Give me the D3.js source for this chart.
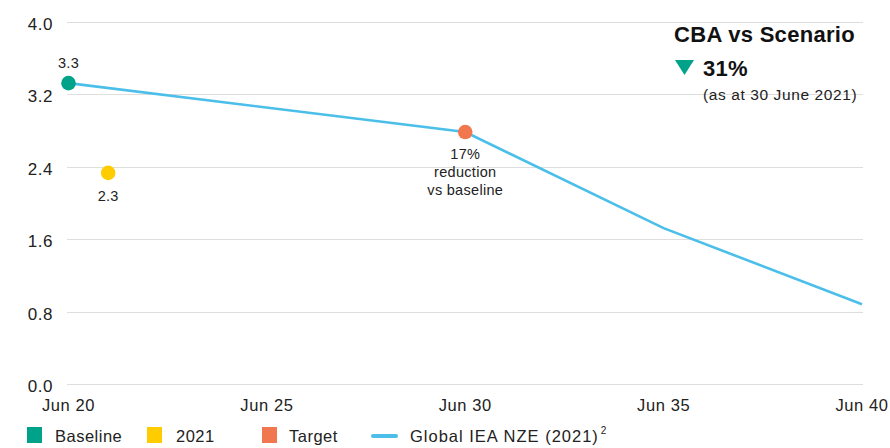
<!DOCTYPE html>
<html>
<head>
<meta charset="utf-8">
<script src="https://cdn.jsdelivr.net/npm/d3@7/dist/d3.min.js"></script>
<style>
  html, body { margin: 0; padding: 0; background: #fff; }
  svg { display: block; font-family: "Liberation Sans", Arial, sans-serif; }
</style>
</head>
<body>
<svg id="chart" width="890" height="448"></svg>
<script>
// ---- data ----
const xTickYears = [2020, 2025, 2030, 2035, 2040];
const xTickLabels = ["Jun 20", "Jun 25", "Jun 30", "Jun 35", "Jun 40"];
const yTicks = [0, 0.8, 1.6, 2.4, 3.2, 4.0];
const nzeYears = [2020, 2030, 2035, 2040];
const nzeValues = [3.32, 2.78, 1.72, 0.88];
const pointNames = ["Baseline", "2021", "Target"];
const pointYears = [2020, 2021, 2030];
const pointValues = [3.32, 2.33, 2.78];
const legendLabels = ["Baseline", "2021", "Target", "Global IEA NZE (2021)"];

const colors = { Baseline: "#00a389", "2021": "#ffcc00", Target: "#f0774e", line: "#4bbfe9" };

const svg = d3.select("#chart");
const x = d3.scaleLinear().domain([2020, 2040]).range([68.5, 862]);
const y = d3.scaleLinear().domain([0, 4]).range([384, 21.5]);

const textColor = "#222";

// gridlines
svg.append("g").selectAll("line").data(yTicks).join("line")
  .attr("x1", 67).attr("x2", 863)
  .attr("y1", d => Math.round(y(d)) + 0.5).attr("y2", d => Math.round(y(d)) + 0.5)
  .attr("stroke", "#dedede").attr("stroke-width", 1.2);

// y labels
svg.append("g").selectAll("text").data(yTicks).join("text")
  .attr("x", 53).attr("y", d => y(d) + 8)
  .attr("text-anchor", "end")
  .attr("font-size", 17).attr("letter-spacing", 0.5).attr("fill", textColor)
  .text(d => d.toFixed(1));

// x labels
svg.append("g").selectAll("text").data(xTickYears).join("text")
  .attr("x", d => x(d)).attr("y", 411)
  .attr("text-anchor", "middle")
  .attr("font-size", 16.5).attr("letter-spacing", 0.6).attr("fill", textColor)
  .text((d, i) => xTickLabels[i]);

// line
const lineData = nzeYears.map((d, i) => [d, nzeValues[i]]);
svg.append("path")
  .datum(lineData)
  .attr("d", d3.line().x(d => x(d[0])).y(d => y(d[1])))
  .attr("fill", "none").attr("stroke", colors.line).attr("stroke-width", 2.6);

// points
svg.append("g").selectAll("circle").data(pointNames).join("circle")
  .attr("cx", (d, i) => x(pointYears[i]))
  .attr("cy", (d, i) => y(pointValues[i]))
  .attr("r", 7.3)
  .attr("fill", d => colors[d]);

// point labels
const lab = svg.append("g").attr("font-size", 14.5).attr("fill", textColor).attr("text-anchor", "middle").attr("letter-spacing", 0.3);
lab.append("text").attr("x", x(pointYears[0])).attr("y", y(pointValues[0]) - 15).text(pointValues[0].toFixed(1));
lab.append("text").attr("x", x(pointYears[1])).attr("y", y(pointValues[1]) + 28).text(pointValues[1].toFixed(1));
const ty = y(pointValues[2]);
lab.append("text").attr("x", x(pointYears[2])).attr("y", ty + 27).text("17%");
lab.append("text").attr("x", x(pointYears[2])).attr("y", ty + 45).text("reduction");
lab.append("text").attr("x", x(pointYears[2])).attr("y", ty + 63).text("vs baseline");

// callout
const co = svg.append("g").attr("fill", "#111");
co.append("text").attr("x", 674).attr("y", 42).attr("font-size", 22).attr("font-weight", "bold")
  .attr("letter-spacing", 0.3).text("CBA vs Scenario");
co.append("path").attr("d", "M675,60 L694,60 L684.5,75 Z").attr("fill", colors.Baseline);
co.append("text").attr("x", 703).attr("y", 76).attr("font-size", 22).attr("font-weight", "bold")
  .attr("letter-spacing", 0.3).text("31%");
co.append("text").attr("x", 703).attr("y", 100).attr("font-size", 15.5).attr("fill", textColor)
  .attr("letter-spacing", 0.6).text("(as at 30 June 2021)");

// legend
const lg = svg.append("g").attr("font-size", 16.5).attr("fill", textColor).attr("letter-spacing", 0.5);
const rectX = [27, 147, 262];
const textX = [55, 176, 289];
pointNames.forEach((n, i) => {
  lg.append("rect").attr("x", rectX[i]).attr("y", 427).attr("width", 15).attr("height", 16).attr("fill", colors[n]);
  lg.append("text").attr("x", textX[i]).attr("y", 442).text(legendLabels[i]);
});
lg.append("line").attr("x1", 373).attr("x2", 396).attr("y1", 436).attr("y2", 436)
  .attr("stroke", colors.line).attr("stroke-width", 4).attr("stroke-linecap", "round");
const lt = lg.append("text").attr("x", 410).attr("y", 442);
lt.append("tspan").attr("letter-spacing", 1.0).text(legendLabels[3]);
lt.append("tspan").attr("dx", 2).attr("dy", -8).attr("font-size", 10).text("2");
</script>
</body>
</html>
